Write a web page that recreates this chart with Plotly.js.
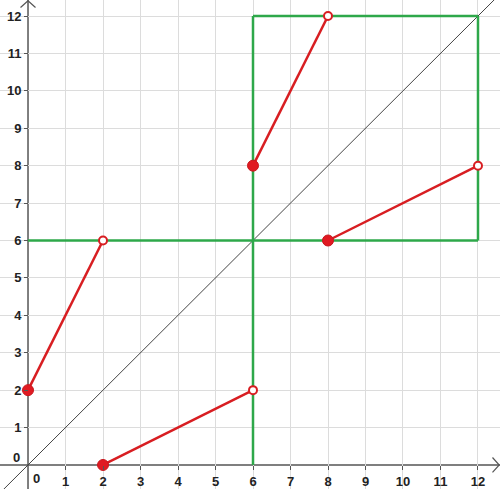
<!DOCTYPE html>
<html><head><meta charset="utf-8">
<script src="https://cdn.plot.ly/plotly-3.0.1.min.js"></script>
<style>html,body{margin:0;padding:0;background:#fff}</style>
</head><body><div id="chart" style="width:500px;height:489px"></div>
<script>
// Red segments: start (closed) and end (open) points
const segStartX = [0, 2, 6, 8];
const segStartY = [2, 0, 8, 6];
const segEndX = [2, 6, 8, 12];
const segEndY = [6, 2, 12, 8];
// Green guide lines
const greenX1 = [6, 0, 12, 6];
const greenY1 = [0, 6, 6, 12];
const greenX2 = [6, 12, 12, 12];
const greenY2 = [12, 6, 12, 12];
// Diagonal y = x
const diagX = [-1, 13];
const diagY = [-1, 13];
const tickVals = [1,2,3,4,5,6,7,8,9,10,11,12];

const xr = [-0.747, 12.587], yr = [-0.642, 12.428];
const traces = [];
traces.push({x: diagX, y: diagY, mode: 'lines', line: {color: '#444', width: 1}, hoverinfo: 'skip'});
for (let i = 0; i < greenX1.length; i++) {
  traces.push({x: [greenX1[i], greenX2[i]], y: [greenY1[i], greenY2[i]], mode: 'lines',
    line: {color: '#2ea84a', width: 2.5}, hoverinfo: 'skip'});
}
for (let i = 0; i < segStartX.length; i++) {
  traces.push({x: [segStartX[i], segEndX[i]], y: [segStartY[i], segEndY[i]], mode: 'lines',
    line: {color: '#d81e22', width: 2.5}, hoverinfo: 'skip'});
}
traces.push({x: segEndX, y: segEndY, mode: 'markers',
  marker: {color: '#fff', size: 8, line: {color: '#d81e22', width: 2}}});
traces.push({x: segStartX, y: segStartY, mode: 'markers',
  marker: {color: '#e01a22', size: 11, line: {color: '#c8181e', width: 1}}});

const ax = {
  showgrid: true, gridcolor: '#dcdcdc', gridwidth: 1, zeroline: false,
  showline: false, ticks: 'outside', ticklen: 4, tickcolor: '#555',
  tickvals: tickVals, ticktext: tickVals.map(String),
  tickfont: {family: 'Liberation Sans, Arial, sans-serif', size: 13, color: '#222', weight: 'bold'},
  anchor: 'free'
};
const layout = {
  width: 500, height: 489, margin: {l: 0, r: 0, t: 0, b: 0},
  paper_bgcolor: '#fff', plot_bgcolor: '#fff', showlegend: false,
  xaxis: Object.assign({}, ax, {range: xr, position: (0 - yr[0]) / (yr[1] - yr[0])}),
  yaxis: Object.assign({}, ax, {range: yr, position: (0 - xr[0]) / (xr[1] - xr[0])}),
  shapes: [
    {type: 'line', xref: 'x', yref: 'y', x0: xr[0], x1: xr[1], y0: 0, y1: 0, line: {color: '#555', width: 1.5}, layer: 'below'},
    {type: 'line', xref: 'x', yref: 'y', x0: 0, x1: 0, y0: yr[0], y1: yr[1], line: {color: '#555', width: 1.5}, layer: 'below'},
    {type: 'path', xref: 'x', yref: 'y', path: `M ${xr[1]-0.2} 0.2 L ${xr[1]-0.02} 0 L ${xr[1]-0.2} -0.2`, line: {color: '#555', width: 1.2}},
    {type: 'path', xref: 'x', yref: 'y', path: `M -0.2 ${yr[1]-0.2} L 0 ${yr[1]-0.02} L 0.2 ${yr[1]-0.2}`, line: {color: '#555', width: 1.2}}
  ],
  annotations: [
    {x: 0, y: 0, xref: 'x', yref: 'y', text: '0', showarrow: false, xanchor: 'left', yanchor: 'top', xshift: 3, yshift: -4,
      font: {family: 'Liberation Sans, Arial, sans-serif', size: 13, color: '#222', weight: 'bold'}},
    {x: 0, y: 0, xref: 'x', yref: 'y', text: '0', showarrow: false, xanchor: 'right', yanchor: 'bottom', xshift: -6, yshift: -2,
      font: {family: 'Liberation Sans, Arial, sans-serif', size: 13, color: '#222', weight: 'bold'}}
  ]
};
Plotly.newPlot('chart', traces, layout, {staticPlot: true, displayModeBar: false});
</script></body></html>
